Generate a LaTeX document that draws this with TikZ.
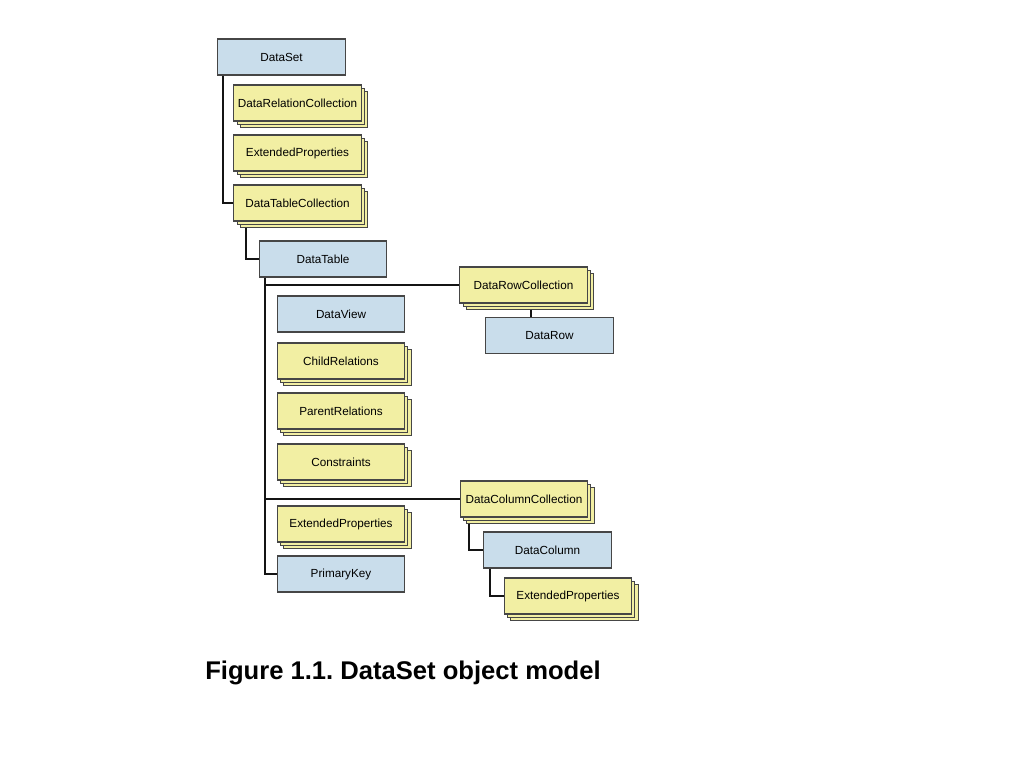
\documentclass[tikz,border=0pt]{standalone}
\usepackage{fontspec}
\setmainfont{Liberation Sans}
\usetikzlibrary{shadows,calc}
\frenchspacing
\definecolor{bluefill}{RGB}{201,221,235}
\definecolor{ylwfill}{RGB}{242,239,163}
\definecolor{brd}{RGB}{70,70,70}
\definecolor{ln}{RGB}{20,20,20}
\tikzset{
  obj/.style={draw=brd, line width=0.8pt, fill=bluefill, minimum width=95.5pt, minimum height=27pt, inner sep=0pt, font=\fontsize{8.8}{10}\selectfont},
  coll/.style={obj, fill=ylwfill,
    general shadow={shadow xshift=4.8pt, shadow yshift=-4.8pt, fill=ylwfill, draw=brd, line width=0.8pt},
    general shadow={shadow xshift=2.4pt, shadow yshift=-2.4pt, fill=ylwfill, draw=brd, line width=0.8pt}},
  conn/.style={draw=ln, line width=1.6pt}
}
\begin{document}
\begin{tikzpicture}[x=0.75pt,y=-0.75pt]
\path[use as bounding box, fill=white] (0,0) rectangle (1024,768);
\node[obj]  (ds)   at (281.5,57)  {DataSet};
\node[coll] (drc)  at (297.5,103) {DataRelationCollection};
\node[coll] (ep1)  at (297.5,153) {ExtendedProperties};
\node[coll] (dtc)  at (297.5,203) {DataTableCollection};
\node[obj]  (dt)   at (323,259)   {DataTable};
\node[obj]  (dv)   at (341,314)   {DataView};
\node[coll] (cr)   at (341,361)   {ChildRelations};
\node[coll] (pr)   at (341,411)   {ParentRelations};
\node[coll] (cons) at (341,462)   {Constraints};
\node[coll] (ep2)  at (341,524)   {ExtendedProperties};
\node[obj]  (pk)   at (341,574)   {PrimaryKey};
\node[coll] (drwc) at (523.5,285) {DataRowCollection};
\node[obj]  (drw)  at (549.5,335.5) {DataRow};
\node[coll] (dcc)  at (524,499)   {DataColumnCollection};
\node[obj]  (dcol) at (547.5,550) {DataColumn};
\node[coll] (ep3)  at (568,596)   {ExtendedProperties};
% connectors
\coordinate (a1) at ($(ds.south west)+(6,0)$);
\draw[conn] (a1) |- (dtc.west);
\coordinate (a2) at ($(dtc.south west)+(13,6)$);
\draw[conn] (a2) |- (dt.west);
\coordinate (a3) at ($(dt.south west)+(6,0)$);
\draw[conn] (a3) |- (pk.west);
\draw[conn] (a3 |- drwc.west) -- (drwc.west);
\draw[conn] (a3 |- dcc.west) -- (dcc.west);
\coordinate (a4) at ($(drwc.south)+(7.5,6)$);
\draw[conn] (a4) -- (a4 |- drw.north);
\coordinate (a5) at ($(dcc.south west)+(9,6)$);
\draw[conn] (a5) |- (dcol.west);
\coordinate (a6) at ($(dcol.south west)+(7,0)$);
\draw[conn] (a6) |- (ep3.west);
\node[font=\bfseries\fontsize{19.2}{22}\selectfont, anchor=west, inner sep=0pt] (cap) at (205,673) {Figure 1.1. DataSet object model};
\end{tikzpicture}
\end{document}
